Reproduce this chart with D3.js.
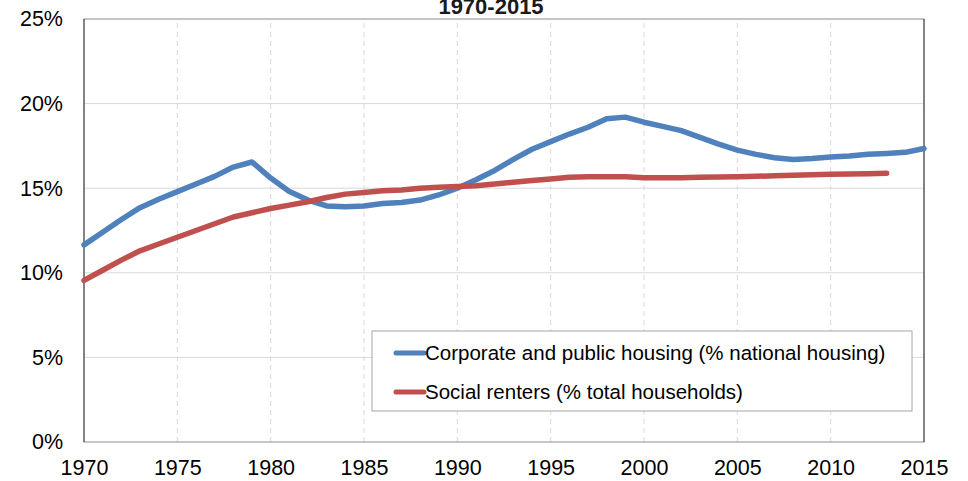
<!DOCTYPE html>
<html>
<head>
<meta charset="utf-8">
<script src="https://cdn.jsdelivr.net/npm/d3@7"></script>
<style>
  html, body { margin: 0; padding: 0; background: #fff; }
  svg { display: block; font-family: "Liberation Sans", Arial, sans-serif; }
  .tick text { fill: #000; }
</style>
</head>
<body>
<svg id="chart" width="968" height="481"></svg>
<script>
// Social housing shares
const years = d3.range(1970, 2016);
const corporateHousing = [
  11.65, 12.4, 13.15, 13.85, 14.35, 14.8, 15.25, 15.7, 16.25, 16.55,
  15.6, 14.8, 14.3, 13.95, 13.9, 13.95, 14.1, 14.15, 14.3, 14.6,
  15.0, 15.5, 16.05, 16.7, 17.3, 17.75, 18.2, 18.6, 19.1, 19.2,
  18.9, 18.65, 18.4, 18.0, 17.6, 17.25, 17.0, 16.8, 16.7, 16.75,
  16.85, 16.9, 17.0, 17.05, 17.12, 17.35
];
const socialRenters = [
  9.55, 10.15, 10.75, 11.3, 11.7, 12.1, 12.5, 12.9, 13.3, 13.55,
  13.8, 14.0, 14.2, 14.45, 14.65, 14.75, 14.85, 14.9, 15.0, 15.05,
  15.1, 15.15, 15.25, 15.35, 15.45, 15.55, 15.65, 15.68, 15.68, 15.68,
  15.62, 15.62, 15.62, 15.64, 15.66, 15.68, 15.7, 15.74, 15.76, 15.8,
  15.82, 15.84, 15.86, 15.88
];
const xTicks = d3.range(1970, 2016, 5);
const yTicks = [0, 5, 10, 15, 20, 25];
const seriesNames = ['Corporate and public housing (% national housing)', 'Social renters (% total households)'];
const seriesColors = ['#4f81bd', '#c0504d'];
const title = '1970-2015';

const svg = d3.select('#chart');
const m = { left: 84, right: 44, top: 19, bottom: 39 };
const W = 968, H = 481;
const x = d3.scaleLinear().domain([1970, 2015]).range([m.left, W - m.right]);
const y = d3.scaleLinear().domain([0, 25]).range([H - m.bottom, m.top]);

// gridlines
svg.append('g').selectAll('line').data(yTicks.slice(1, -1)).join('line')
  .attr('x1', x(1970)).attr('x2', x(2015))
  .attr('y1', d => y(d)).attr('y2', d => y(d))
  .attr('stroke', '#d9d9d9').attr('stroke-width', 1);
svg.append('g').selectAll('line').data(xTicks.slice(1, -1)).join('line')
  .attr('y1', y(0)).attr('y2', y(25))
  .attr('x1', d => x(d)).attr('x2', d => x(d))
  .attr('stroke', '#d9d9d9').attr('stroke-dasharray', '5,4');

// plot frame
svg.append('rect').attr('x', x(1970)).attr('y', y(25))
  .attr('width', x(2015) - x(1970)).attr('height', y(0) - y(25))
  .attr('fill', 'none').attr('stroke', '#8c8c8c');
svg.append('line').attr('x1', x(1970)).attr('x2', x(1970)).attr('y1', y(25)).attr('y2', y(0)).attr('stroke', '#404040');
svg.append('line').attr('x1', x(2015)).attr('x2', x(2015)).attr('y1', y(25)).attr('y2', y(0)).attr('stroke', '#404040');

// axes
const yAxis = svg.append('g').attr('transform', `translate(${x(1970)},0)`)
  .call(d3.axisLeft(y).tickValues(yTicks).tickSize(0).tickPadding(21).tickFormat(d => d + '%'));
const xAxis = svg.append('g').attr('transform', `translate(0,${y(0)})`)
  .call(d3.axisBottom(x).tickValues(xTicks).tickSize(0).tickPadding(18).tickFormat(d3.format('d')));
[yAxis, xAxis].forEach(a => {
  a.select('.domain').remove();
  a.selectAll('text').attr('font-size', 21.5).attr('font-family', '"Liberation Sans", Arial, sans-serif');
});

// series
const line = d3.line().x(d => x(d[0])).y(d => y(d[1]));
[corporateHousing, socialRenters].forEach((vals, i) => {
  svg.append('path').datum(vals.map((v, j) => [years[j], v]))
    .attr('d', line).attr('fill', 'none')
    .attr('stroke', seriesColors[i]).attr('stroke-width', 5.5)
    .attr('stroke-linecap', 'round').attr('stroke-linejoin', 'round');
});

// legend
const lg = svg.append('g').attr('transform', 'translate(372,331)');
lg.append('rect').attr('width', 540).attr('height', 80)
  .attr('fill', '#fff').attr('stroke', '#a6a6a6');
seriesNames.forEach((name, i) => {
  const ly = 22 + i * 39;
  lg.append('line').attr('x1', 24).attr('x2', 52).attr('y1', ly).attr('y2', ly)
    .attr('stroke', seriesColors[i]).attr('stroke-width', 5).attr('stroke-linecap', 'round');
  lg.append('text').attr('x', 53).attr('y', ly + 7).attr('font-size', 20.5).text(name);
});

// title (cut at top in the original)
svg.append('text').attr('x', 491).attr('y', 14).attr('text-anchor', 'middle')
  .attr('font-size', 22).attr('font-weight', 'bold').attr('fill', '#1a1a1a').text(title);
</script>
</body>
</html>
